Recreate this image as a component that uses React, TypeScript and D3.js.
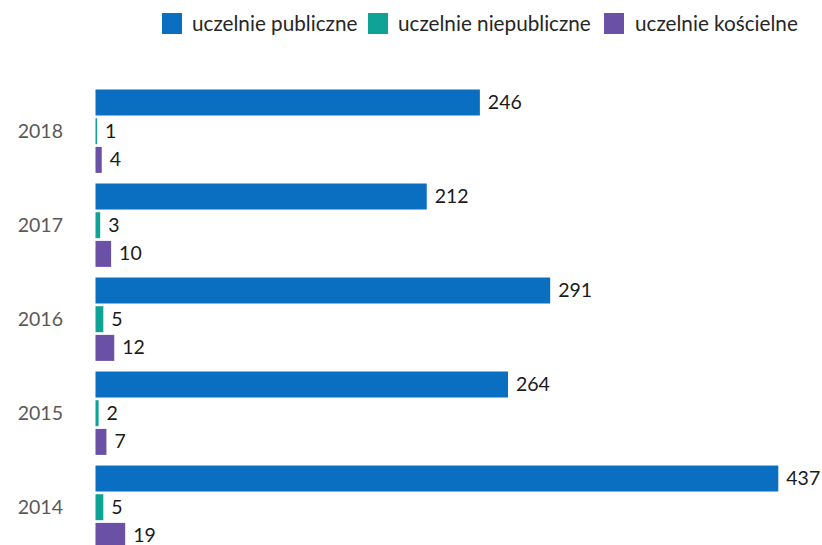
import React from "react";
import * as d3 from "d3";

const years = ["2018", "2017", "2016", "2015", "2014"];
const seriesNames = ["uczelnie publiczne", "uczelnie niepubliczne", "uczelnie kościelne"];
const publiczne = [246, 212, 291, 264, 437];
const niepubliczne = [1, 3, 5, 2, 5];
const koscielne = [4, 10, 12, 7, 19];
const colors = ["#0A6FC1", "#0FA396", "#6A51A6"];

const W = 822;
const H = 545;
const FONT = "Lato, 'Open Sans', sans-serif";

export default function App() {
  const seriesValues = [publiczne, niepubliczne, koscielne];
  const x = d3.scaleLinear().domain([0, 437]).range([95.5, 778.3]);
  const y = d3.scaleBand<string>().domain(years).range([89.5, 548.9]).paddingInner(0.113).paddingOuter(0);
  const yInner = d3
    .scaleBand<number>()
    .domain([0, 1, 2])
    .range([0, y.bandwidth()])
    .paddingInner(0.094)
    .paddingOuter(0);

  const legendItems = [
    { sx: 162, tx: 192 },
    { sx: 368, tx: 398 },
    { sx: 604, tx: 635 },
  ];

  return (
    <div style={{ position: "absolute", left: 0, top: 0, width: W, height: H, overflow: "hidden", background: "#fff" }}>
      <svg width={W} height={H} style={{ display: "block", fontFamily: FONT }}>
        {seriesNames.map((name, i) => (
          <g key={name}>
            <rect x={legendItems[i].sx} y={13} width={20} height={21} fill={colors[i]} />
            <text x={legendItems[i].tx} y={24} dy="0.35em" fontSize={20.7} fill="#262626">
              {name}
            </text>
          </g>
        ))}
        {years.map((yr, yi) => {
          const y0 = y(yr)!;
          return (
            <g key={yr}>
              <text
                x={63}
                y={y0 + y.bandwidth() / 2}
                dy="0.35em"
                textAnchor="end"
                fontSize={19.5}
                fill="#595959"
              >
                {yr}
              </text>
              {seriesValues.map((vals, si) => {
                const v = vals[yi];
                const by = y0 + yInner(si)!;
                const bh = yInner.bandwidth();
                return (
                  <g key={si}>
                    <rect x={x(0)} y={by} width={x(v) - x(0)} height={bh} fill={colors[si]} />
                    <text x={x(v) + 8} y={by + bh / 2} dy="0.33em" fontSize={19.5} fill="#1a1a1a">
                      {v}
                    </text>
                  </g>
                );
              })}
            </g>
          );
        })}
      </svg>
    </div>
  );
}
